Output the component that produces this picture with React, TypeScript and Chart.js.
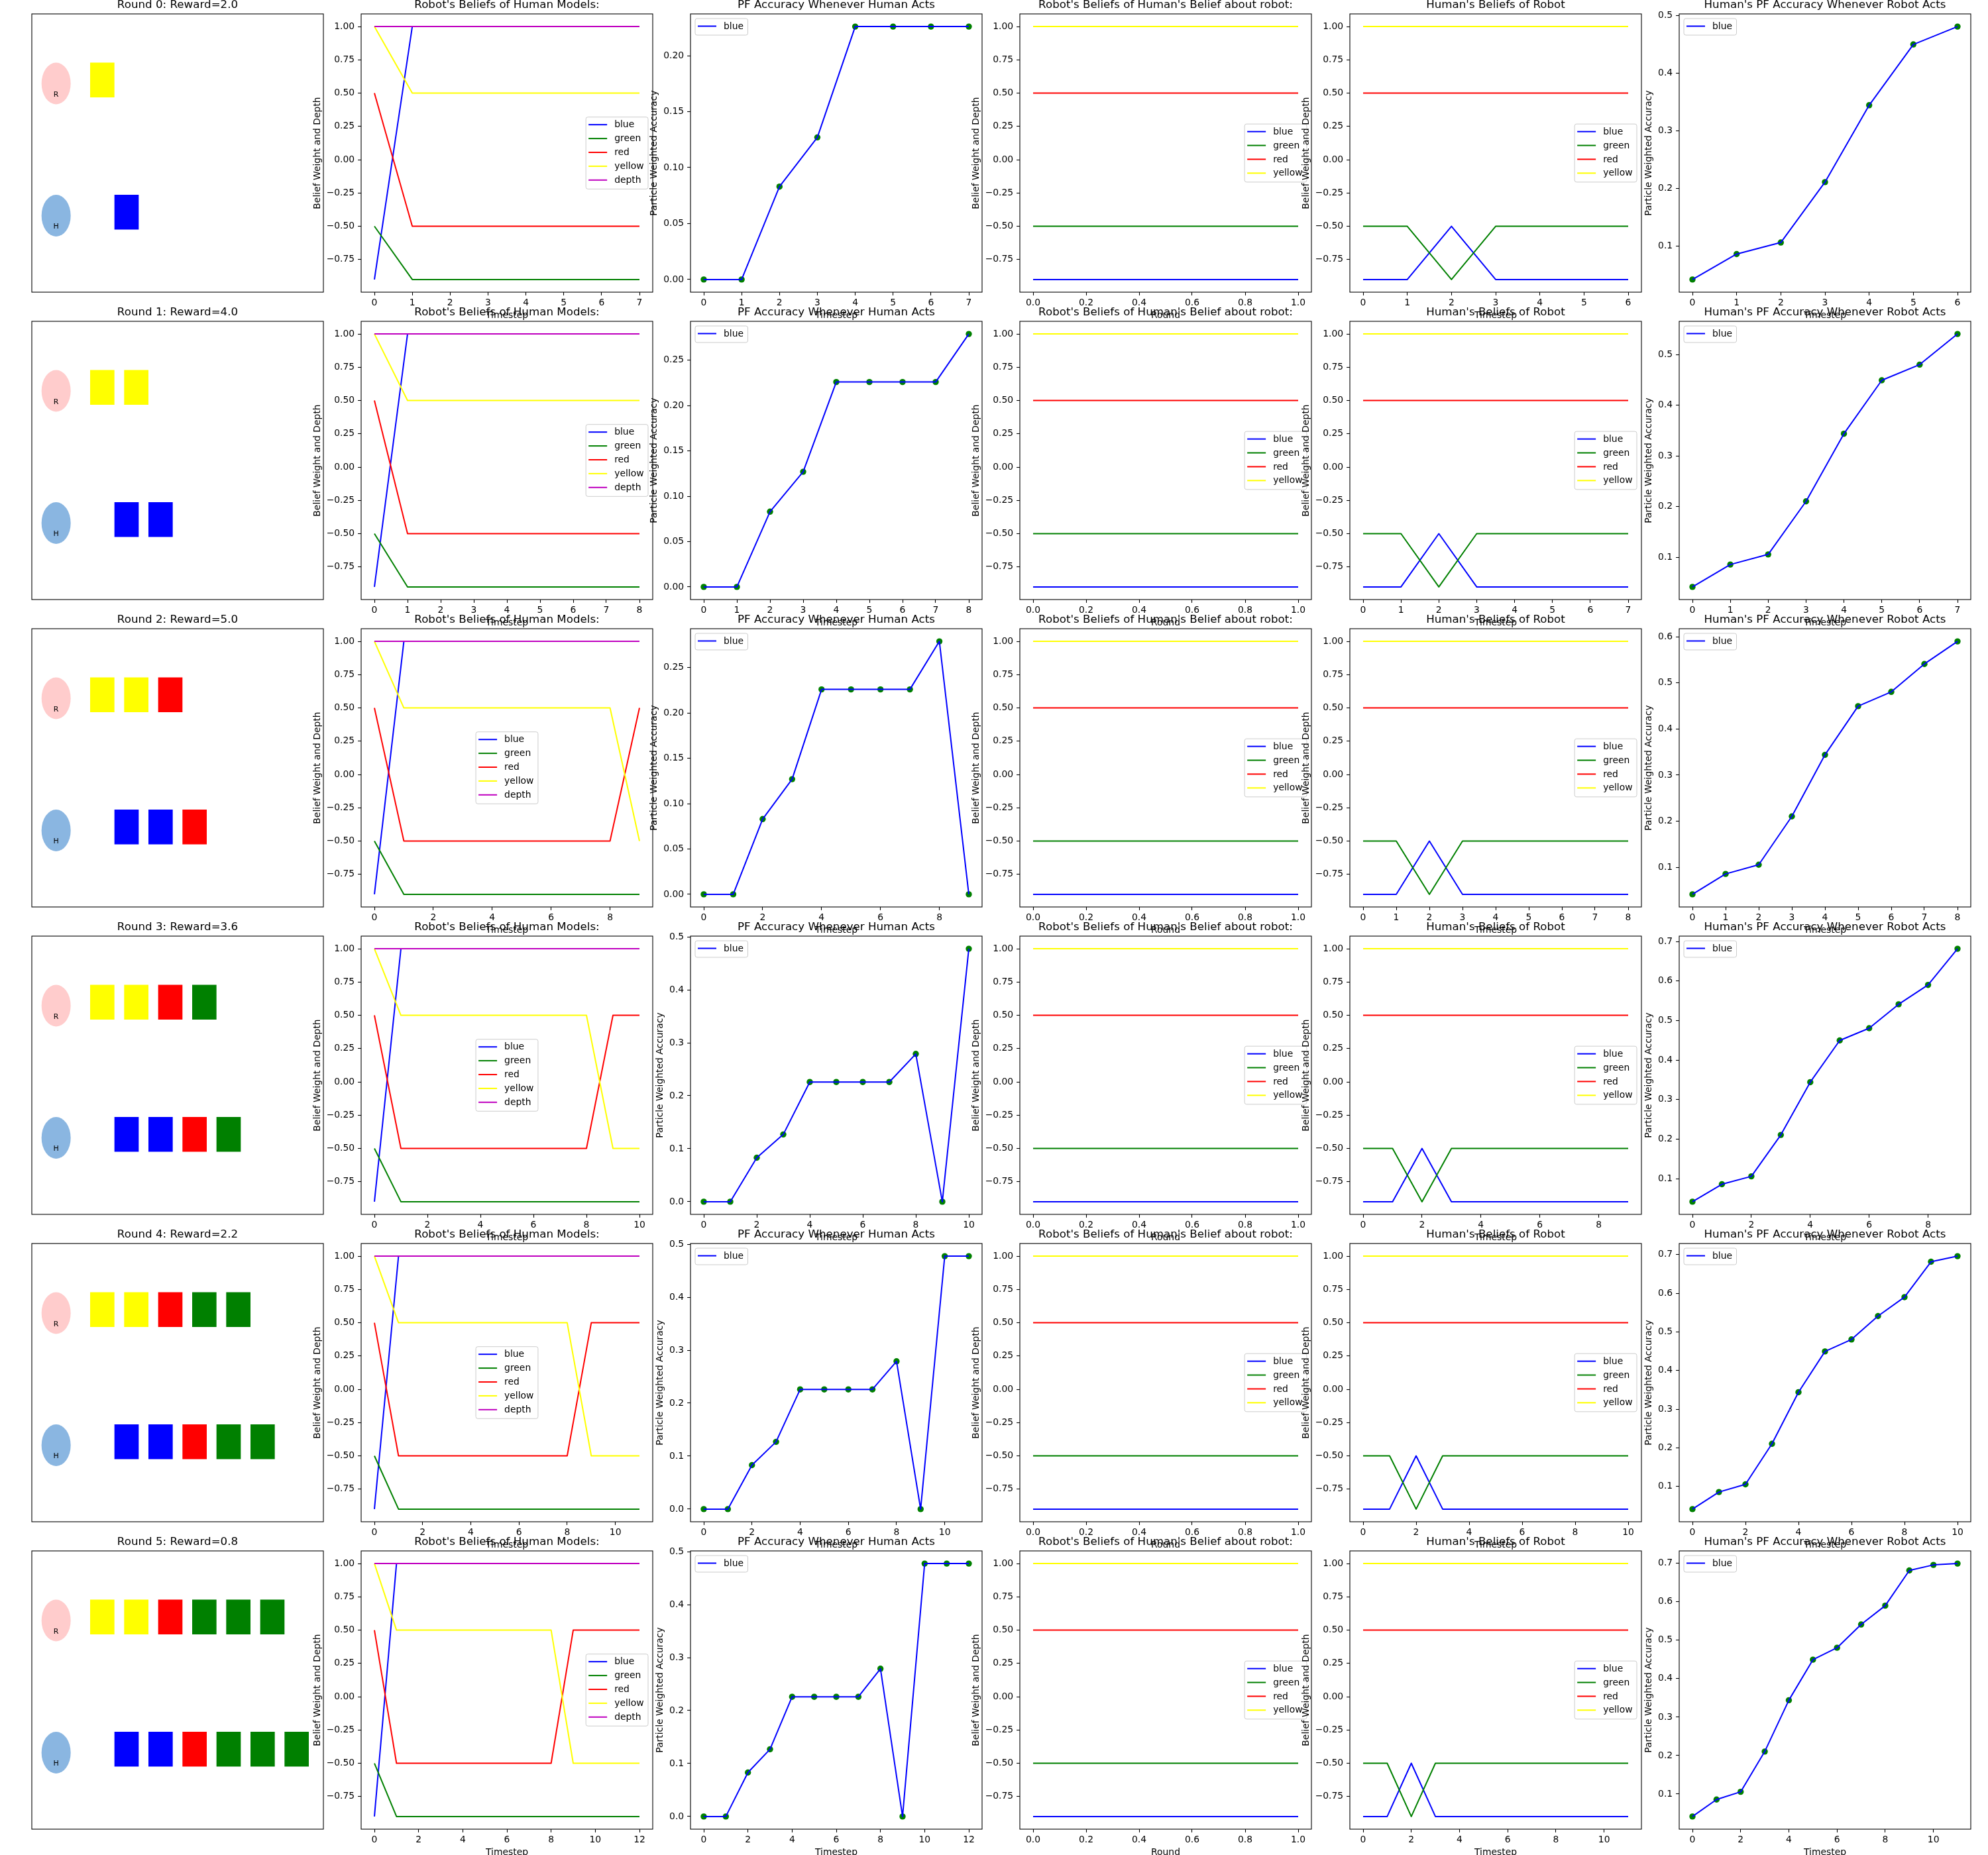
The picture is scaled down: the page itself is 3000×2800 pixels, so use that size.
import React, { useEffect, useRef } from 'react';
import { Chart, registerables } from 'chart.js';

Chart.register(...registerables);

const FONT = 'DejaVu Sans';
Chart.defaults.font.family = FONT;

// ---------------- data ----------------
const roundRewards = [2.0, 4.0, 5.0, 3.6, 2.2, 0.8];
const robotStepCounts = [8, 9, 10, 11, 12, 13];
const humanStepCounts = [7, 8, 9, 10, 11, 12];

const robotBeliefBlue = [-0.9, 1, 1, 1, 1, 1, 1, 1, 1, 1, 1, 1, 1];
const robotBeliefGreen = [-0.5, -0.9, -0.9, -0.9, -0.9, -0.9, -0.9, -0.9, -0.9, -0.9, -0.9, -0.9, -0.9];
const robotBeliefRed = [0.5, -0.5, -0.5, -0.5, -0.5, -0.5, -0.5, -0.5, -0.5, 0.5, 0.5, 0.5, 0.5];
const robotBeliefYellow = [1, 0.5, 0.5, 0.5, 0.5, 0.5, 0.5, 0.5, 0.5, -0.5, -0.5, -0.5, -0.5];
const robotBeliefDepth = [1, 1, 1, 1, 1, 1, 1, 1, 1, 1, 1, 1, 1];

const pfHumanActs = [0, 0, 0.083, 0.127, 0.226, 0.226, 0.226, 0.226, 0.279, 0, 0.4775, 0.4775, 0.4775];

const roundAxis = [0, 1];
const nestedBlue = [-0.9, -0.9];
const nestedGreen = [-0.5, -0.5];
const nestedRed = [0.5, 0.5];
const nestedYellow = [1, 1];

const humanBeliefBlue = [-0.9, -0.9, -0.5, -0.9, -0.9, -0.9, -0.9, -0.9, -0.9, -0.9, -0.9, -0.9];
const humanBeliefGreen = [-0.5, -0.5, -0.9, -0.5, -0.5, -0.5, -0.5, -0.5, -0.5, -0.5, -0.5, -0.5];
const humanBeliefRed = [0.5, 0.5, 0.5, 0.5, 0.5, 0.5, 0.5, 0.5, 0.5, 0.5, 0.5, 0.5];
const humanBeliefYellow = [1, 1, 1, 1, 1, 1, 1, 1, 1, 1, 1, 1];

const pfRobotActs = [0.0415, 0.0857, 0.1057, 0.2105, 0.344, 0.4495, 0.4805, 0.541, 0.59, 0.6815, 0.696, 0.6995];

const robotBlocks = ['yellow', 'yellow', 'red', 'green', 'green', 'green'];
const humanBlocks = ['blue', 'blue', 'red', 'green', 'green', 'green'];

// tick labels
const beliefTicks = ['\u22120.75', '\u22120.50', '\u22120.25', '0.00', '0.25', '0.50', '0.75', '1.00'];
const roundTicks = ['0.0', '0.2', '0.4', '0.6', '0.8', '1.0'];
const pfHumanTicks = [
  ['0.00', '0.05', '0.10', '0.15', '0.20'],
  ['0.00', '0.05', '0.10', '0.15', '0.20', '0.25'],
  ['0.00', '0.05', '0.10', '0.15', '0.20', '0.25'],
  ['0.0', '0.1', '0.2', '0.3', '0.4', '0.5'],
  ['0.0', '0.1', '0.2', '0.3', '0.4', '0.5'],
  ['0.0', '0.1', '0.2', '0.3', '0.4', '0.5'],
];
const pfRobotTicks = [
  ['0.1', '0.2', '0.3', '0.4', '0.5'],
  ['0.1', '0.2', '0.3', '0.4', '0.5'],
  ['0.1', '0.2', '0.3', '0.4', '0.5', '0.6'],
  ['0.1', '0.2', '0.3', '0.4', '0.5', '0.6', '0.7'],
  ['0.1', '0.2', '0.3', '0.4', '0.5', '0.6', '0.7'],
  ['0.1', '0.2', '0.3', '0.4', '0.5', '0.6', '0.7'],
];
const robotXTicks = [
  ['0', '1', '2', '3', '4', '5', '6', '7'],
  ['0', '1', '2', '3', '4', '5', '6', '7', '8'],
  ['0', '2', '4', '6', '8'],
  ['0', '2', '4', '6', '8', '10'],
  ['0', '2', '4', '6', '8', '10'],
  ['0', '2', '4', '6', '8', '10', '12'],
];
const humanXTicks = [
  ['0', '1', '2', '3', '4', '5', '6'],
  ['0', '1', '2', '3', '4', '5', '6', '7'],
  ['0', '1', '2', '3', '4', '5', '6', '7', '8'],
  ['0', '2', '4', '6', '8'],
  ['0', '2', '4', '6', '8', '10'],
  ['0', '2', '4', '6', '8', '10'],
];
const robotLegendLoc = ['center right', 'center right', 'center', 'center', 'center', 'center right'];

// ---------------- styling / layout ----------------
const COLORS: Record<string, string> = {
  blue: '#0000ff',
  green: '#008000',
  red: '#ff0000',
  yellow: '#ffff00',
  depth: '#bf00bf',
};
const PW = 440;
const PH = 420;
const PAD_L = 100;
const PAD_T = 30;
const PAD_R = 30;
const PAD_B = 60;
const CW = PAD_L + PW + PAD_R;
const CH = PAD_T + PH + PAD_B;
const COL_LEFT0 = 47.8;
const COL_PITCH = 497.2;
const ROW_TOP0 = 21;
const ROW_PITCH = 464.06;

type LineSpec = { label: string | null; color: string; x: number[]; y: number[]; markers?: boolean };
type Spec = {
  kind: 'scene' | 'plot';
  title: string;
  round: number;
  xLabel?: string;
  yLabel?: string;
  lines: LineSpec[];
  xTicks: string[];
  yTicks: string[];
  legendLoc: string;
};

const num = (s: string) => parseFloat(s.replace('\u2212', '-'));
const steps = (n: number) => Array.from({ length: n }, (_, i) => i);

function padRange(vals: number[]): [number, number] {
  const lo = Math.min(...vals);
  const hi = Math.max(...vals);
  const m = (hi - lo) * 0.05;
  return [lo - m, hi + m];
}

function drawLegend(ctx: CanvasRenderingContext2D, a: any, items: { label: string; color: string }[], loc: string) {
  ctx.save();
  ctx.font = `13.9px "${FONT}"`;
  const maxW = Math.max(...items.map((it) => ctx.measureText(it.label).width));
  const w = 4 + 28 + 11 + maxW + 6.5;
  const h = 11.5 + (items.length - 1) * 20.9 + 13.5;
  let x: number;
  let y: number;
  if (loc === 'upper left') {
    x = a.left + 7;
    y = a.top + 7;
  } else if (loc === 'center') {
    x = (a.left + a.right) / 2 - w / 2;
    y = (a.top + a.bottom) / 2 - h / 2;
  } else {
    x = a.right - 7 - w;
    y = (a.top + a.bottom) / 2 - h / 2;
  }
  const r = 3;
  ctx.beginPath();
  ctx.moveTo(x + r, y);
  ctx.lineTo(x + w - r, y);
  ctx.quadraticCurveTo(x + w, y, x + w, y + r);
  ctx.lineTo(x + w, y + h - r);
  ctx.quadraticCurveTo(x + w, y + h, x + w - r, y + h);
  ctx.lineTo(x + r, y + h);
  ctx.quadraticCurveTo(x, y + h, x, y + h - r);
  ctx.lineTo(x, y + r);
  ctx.quadraticCurveTo(x, y, x + r, y);
  ctx.closePath();
  ctx.fillStyle = 'rgba(255,255,255,0.8)';
  ctx.fill();
  ctx.strokeStyle = '#cccccc';
  ctx.lineWidth = 1;
  ctx.stroke();
  items.forEach((it, i) => {
    const yy = y + 11.5 + i * 20.9;
    ctx.strokeStyle = it.color;
    ctx.lineWidth = 2;
    ctx.beginPath();
    ctx.moveTo(x + 4, yy);
    ctx.lineTo(x + 32, yy);
    ctx.stroke();
    ctx.fillStyle = '#000';
    ctx.textAlign = 'left';
    ctx.textBaseline = 'middle';
    ctx.fillText(it.label, x + 43, yy + 0.5);
  });
  ctx.restore();
}

function drawScene(chart: any, round: number) {
  const ctx: CanvasRenderingContext2D = chart.ctx;
  const xs = chart.scales.x;
  const ys = chart.scales.y;
  const px = (v: number) => xs.getPixelForValue(v);
  const py = (v: number) => ys.getPixelForValue(v);
  ctx.save();
  const ellipse = (cx: number, cy: number, r: number, color: string) => {
    ctx.beginPath();
    ctx.ellipse(px(cx), py(cy), px(cx + r) - px(cx), py(cy) - py(cy + r), 0, 0, Math.PI * 2);
    ctx.fillStyle = color;
    ctx.fill();
  };
  ellipse(0.25, 1.5, 0.15, '#ffcccc');
  ellipse(0.25, 0.55, 0.15, '#8ab6e1');
  const block = (x0: number, y0: number, color: string) => {
    const l = px(x0);
    const rr = px(x0 + 0.25);
    const t = py(y0 + 0.25);
    const b = py(y0);
    ctx.fillStyle = COLORS[color];
    ctx.fillRect(l, t, rr - l, b - t);
  };
  for (let i = 0; i <= round; i++) {
    block(0.6 + 0.35 * i, 1.4, robotBlocks[i]);
    block(0.85 + 0.35 * i, 0.45, humanBlocks[i]);
  }
  ctx.fillStyle = '#000';
  ctx.font = `11px "${FONT}"`;
  ctx.textAlign = 'center';
  ctx.textBaseline = 'middle';
  ctx.fillText('R', px(0.25), py(1.42));
  ctx.fillText('H', px(0.25), py(0.473));
  ctx.restore();
}

function buildConfig(spec: Spec): any {
  const decor = {
    id: 'decor',
    afterDatasetsDraw(chart: any) {
      const ctx: CanvasRenderingContext2D = chart.ctx;
      const a = chart.chartArea;
      if (spec.kind === 'scene') drawScene(chart, spec.round);
      ctx.save();
      ctx.strokeStyle = '#000';
      ctx.lineWidth = 1.1;
      ctx.strokeRect(a.left, a.top, a.right - a.left, a.bottom - a.top);
      const items = spec.lines.filter((l) => l.label).map((l) => ({ label: l.label as string, color: l.color }));
      if (items.length) drawLegend(ctx, a, items, spec.legendLoc);
      ctx.fillStyle = '#000';
      ctx.font = `16.7px "${FONT}"`;
      ctx.textAlign = 'center';
      ctx.textBaseline = 'alphabetic';
      ctx.fillText(spec.title, (a.left + a.right) / 2, a.top - 8.8);
      ctx.font = `13.9px "${FONT}"`;
      if (spec.xLabel) ctx.fillText(spec.xLabel, (a.left + a.right) / 2, a.bottom + 39);
      if (spec.yLabel) {
        const maxW = Math.max(...spec.yTicks.map((t) => ctx.measureText(t).width));
        const bx = a.left - 9.8 - maxW - 10;
        ctx.translate(bx, (a.top + a.bottom) / 2);
        ctx.rotate(-Math.PI / 2);
        ctx.fillText(spec.yLabel, 0, 0);
      }
      ctx.restore();
    },
  };

  const base: any = {
    responsive: false,
    animation: false,
    devicePixelRatio: 1,
    events: [],
    plugins: { legend: { display: false }, tooltip: { enabled: false }, title: { display: false } },
  };

  if (spec.kind === 'scene') {
    return {
      type: 'scatter',
      data: { datasets: [] },
      options: {
        ...base,
        layout: { padding: { left: PAD_L, top: PAD_T, right: PAD_R, bottom: PAD_B } },
        scales: {
          x: { type: 'linear', display: false, min: 0, max: 3 },
          y: { type: 'linear', display: false, min: 0, max: 2 },
        },
      },
      plugins: [decor],
    };
  }

  const allX = spec.lines.flatMap((l) => l.x);
  const allY = spec.lines.flatMap((l) => l.y);
  const [xmin, xmax] = padRange(allX);
  const [ymin, ymax] = padRange(allY);

  const axis = (which: 'x' | 'y', min: number, max: number, labels: string[]) => {
    const vals = labels.map(num);
    return {
      type: 'linear',
      position: which === 'x' ? 'bottom' : 'left',
      min,
      max,
      bounds: 'data',
      grid: {
        display: true,
        drawOnChartArea: false,
        drawTicks: true,
        tickLength: 4.9,
        tickColor: '#000',
        tickWidth: 1.1,
      },
      border: { display: false },
      ticks: {
        autoSkip: false,
        maxRotation: 0,
        minRotation: 0,
        color: '#000',
        font: { family: FONT, size: 13.9 },
        padding: which === 'x' ? 3.5 : 4.9,
        callback: (_v: any, i: number) => labels[i],
      },
      afterBuildTicks: (s: any) => {
        s.ticks = vals.map((v) => ({ value: v }));
      },
      afterFit: (s: any) => {
        if (which === 'x') s.height = PAD_B;
        else s.width = PAD_L;
      },
    };
  };

  const n = spec.lines.length;
  const datasets = spec.lines.map((l, i) => {
    const data = l.x.map((xv, k) => ({ x: xv, y: l.y[k] }));
    if (l.markers) {
      return {
        data,
        showLine: false,
        pointRadius: 4.7,
        pointBackgroundColor: l.color,
        pointBorderColor: l.color,
        pointBorderWidth: 0,
        borderColor: l.color,
        backgroundColor: l.color,
        order: n - i,
      };
    }
    return {
      data,
      borderColor: l.color,
      backgroundColor: l.color,
      borderWidth: 2,
      pointRadius: 0,
      tension: 0,
      fill: false,
      borderJoinStyle: 'round',
      borderCapStyle: 'butt',
      order: n - i,
    };
  });

  return {
    type: 'line',
    data: { datasets },
    options: {
      ...base,
      layout: { padding: { left: 0, top: PAD_T, right: PAD_R, bottom: 0 } },
      scales: {
        x: axis('x', xmin, xmax, spec.xTicks),
        y: axis('y', ymin, ymax, spec.yTicks),
      },
    },
    plugins: [decor],
  };
}

// ---------------- build specs ----------------
type Placed = { spec: Spec; left: number; top: number; key: string };
const PANELS: Placed[] = [];
for (let r = 0; r < 6; r++) {
  const nR = robotStepCounts[r];
  const nH = humanStepCounts[r];
  const tR = steps(nR);
  const tH = steps(nH);
  const specs: Spec[] = [
    {
      kind: 'scene',
      title: `Round ${r}: Reward=${roundRewards[r].toFixed(1)}`,
      round: r,
      lines: [],
      xTicks: [],
      yTicks: [],
      legendLoc: '',
    },
    {
      kind: 'plot',
      title: "Robot's Beliefs of Human Models:",
      round: r,
      xLabel: 'Timestep',
      yLabel: 'Belief Weight and Depth',
      lines: [
        { label: 'blue', color: COLORS.blue, x: tR, y: robotBeliefBlue.slice(0, nR) },
        { label: 'green', color: COLORS.green, x: tR, y: robotBeliefGreen.slice(0, nR) },
        { label: 'red', color: COLORS.red, x: tR, y: robotBeliefRed.slice(0, nR) },
        { label: 'yellow', color: COLORS.yellow, x: tR, y: robotBeliefYellow.slice(0, nR) },
        { label: 'depth', color: COLORS.depth, x: tR, y: robotBeliefDepth.slice(0, nR) },
      ],
      xTicks: robotXTicks[r],
      yTicks: beliefTicks,
      legendLoc: robotLegendLoc[r],
    },
    {
      kind: 'plot',
      title: 'PF Accuracy Whenever Human Acts',
      round: r,
      xLabel: 'Timestep',
      yLabel: 'Particle Weighted Accuracy',
      lines: [
        { label: null, color: COLORS.green, x: tR, y: pfHumanActs.slice(0, nR), markers: true },
        { label: 'blue', color: COLORS.blue, x: tR, y: pfHumanActs.slice(0, nR) },
      ],
      xTicks: robotXTicks[r],
      yTicks: pfHumanTicks[r],
      legendLoc: 'upper left',
    },
    {
      kind: 'plot',
      title: "Robot's Beliefs of Human's Belief about robot:",
      round: r,
      xLabel: 'Round',
      yLabel: 'Belief Weight and Depth',
      lines: [
        { label: 'blue', color: COLORS.blue, x: roundAxis, y: nestedBlue },
        { label: 'green', color: COLORS.green, x: roundAxis, y: nestedGreen },
        { label: 'red', color: COLORS.red, x: roundAxis, y: nestedRed },
        { label: 'yellow', color: COLORS.yellow, x: roundAxis, y: nestedYellow },
      ],
      xTicks: roundTicks,
      yTicks: beliefTicks,
      legendLoc: 'center right',
    },
    {
      kind: 'plot',
      title: "Human's Beliefs of Robot",
      round: r,
      xLabel: 'Timestep',
      yLabel: 'Belief Weight and Depth',
      lines: [
        { label: 'blue', color: COLORS.blue, x: tH, y: humanBeliefBlue.slice(0, nH) },
        { label: 'green', color: COLORS.green, x: tH, y: humanBeliefGreen.slice(0, nH) },
        { label: 'red', color: COLORS.red, x: tH, y: humanBeliefRed.slice(0, nH) },
        { label: 'yellow', color: COLORS.yellow, x: tH, y: humanBeliefYellow.slice(0, nH) },
      ],
      xTicks: humanXTicks[r],
      yTicks: beliefTicks,
      legendLoc: 'center right',
    },
    {
      kind: 'plot',
      title: "Human's PF Accuracy Whenever Robot Acts",
      round: r,
      xLabel: 'Timestep',
      yLabel: 'Particle Weighted Accuracy',
      lines: [
        { label: null, color: COLORS.green, x: tH, y: pfRobotActs.slice(0, nH), markers: true },
        { label: 'blue', color: COLORS.blue, x: tH, y: pfRobotActs.slice(0, nH) },
      ],
      xTicks: humanXTicks[r],
      yTicks: pfRobotTicks[r],
      legendLoc: 'upper left',
    },
  ];
  specs.forEach((spec, c) => {
    PANELS.push({
      spec,
      left: Math.round(COL_LEFT0 + COL_PITCH * c) - PAD_L,
      top: Math.round(ROW_TOP0 + ROW_PITCH * r) - PAD_T,
      key: `${r}-${c}`,
    });
  });
}

function Panel({ spec, left, top }: { spec: Spec; left: number; top: number }) {
  const ref = useRef<HTMLCanvasElement>(null);
  useEffect(() => {
    const chart = new Chart(ref.current as HTMLCanvasElement, buildConfig(spec));
    return () => chart.destroy();
  }, [spec]);
  return (
    <canvas
      ref={ref}
      width={CW}
      height={CH}
      style={{ position: 'absolute', left, top, width: CW, height: CH }}
    />
  );
}

export default function App() {
  return (
    <div
      style={{
        position: 'absolute',
        left: 0,
        top: 0,
        width: 3000,
        height: 2800,
        overflow: 'hidden',
        background: '#ffffff',
      }}
    >
      {PANELS.map((p) => (
        <Panel key={p.key} spec={p.spec} left={p.left} top={p.top} />
      ))}
    </div>
  );
}
